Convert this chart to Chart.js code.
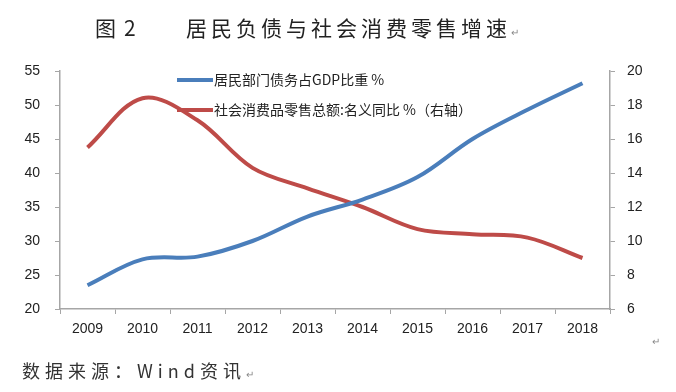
<!DOCTYPE html>
<html>
<head>
<meta charset="utf-8">
<script src="https://cdn.jsdelivr.net/npm/chart.js@4.4.1/dist/chart.umd.min.js"></script>
<style>
  html, body { margin: 0; padding: 0; background: #fff; }
  #wrap { position: relative; width: 676px; height: 392px; overflow: hidden; }
  #chart { position: absolute; left: 0; top: 0; }
  .title { position: absolute; left: 95px; top: 12px; font-family: "Noto Sans CJK SC"; font-size: 21px; color: #222; white-space: nowrap; }
  .title .num { margin-left: 8px; }
  .title .main { position: absolute; left: 91px; top: 0; letter-spacing: 4px; }
  .src { position: absolute; left: 22px; top: 357px; font-family: "Noto Sans CJK SC"; font-size: 18px; color: #333; white-space: nowrap; letter-spacing: 5px; }
  .mark { font-size: 10px; color: #888; letter-spacing: 0; }
  .mark2 { position: absolute; left: 652px; top: 336px; font-size: 10px; color: #888; }
</style>
</head>
<body>
<div id="wrap">
  <canvas id="chart" width="676" height="392"></canvas>
  <div class="title">图<span class="num">2</span><span class="main">居民负债与社会消费零售增速<span class="mark">↵</span></span></div>
  <div class="src">数据来源：Wind资讯<span class="mark">↵</span></div>
  <div class="mark2">↵</div>
</div>
<script>
// data
var years = ['2009', '2010', '2011', '2012', '2013', '2014', '2015', '2016', '2017', '2018'];
var debtToGdp = [23.5, 27.3, 27.7, 30.0, 33.6, 36.1, 39.4, 45.0, 49.3, 53.2];
var retailGrowth = [15.5, 18.4, 17.1, 14.3, 13.1, 12.0, 10.7, 10.4, 10.2, 9.0];
var debtLabel = '居民部门债务占GDP比重 %';
var retailLabel = '社会消费品零售总额:名义同比 %（右轴）';

var blue = '#4a7ebb';
var red = '#be4b48';
var axisGray = '#a6a6a6';
var tickFont = { family: 'Liberation Sans', size: 14 };

// legend drawn inside the plot like the original
var innerLegend = {
    id: 'innerLegend',
    afterDraw: function(chart) {
        var ctx = chart.ctx;
        var rows = [[blue, debtLabel, 80], [red, retailLabel, 110]];
        ctx.save();
        rows.forEach(function(r) {
            ctx.strokeStyle = r[0];
            ctx.lineWidth = 4;
            ctx.beginPath();
            ctx.moveTo(177, r[2]);
            ctx.lineTo(213, r[2]);
            ctx.stroke();
            ctx.fillStyle = '#222';
            ctx.font = '14px "Noto Sans CJK SC"';
            ctx.textBaseline = 'middle';
            ctx.fillText(r[1], 214, r[2]);
        });
        ctx.restore();
    }
};

var ctx = document.getElementById('chart').getContext('2d');
var myChart = new Chart(ctx, {
    type: 'line',
    data: {
        labels: years,
        datasets: [{
            label: debtLabel,
            data: debtToGdp,
            yAxisID: 'y',
            borderColor: blue,
            backgroundColor: blue,
            borderWidth: 4,
            pointRadius: 0,
            tension: 0.35
        },
        {
            label: retailLabel,
            data: retailGrowth,
            yAxisID: 'y1',
            borderColor: red,
            backgroundColor: red,
            borderWidth: 4,
            pointRadius: 0,
            tension: 0.35
        }]
    },
    options: {
        responsive: false,
        animation: false,
        layout: { padding: { top: 71, bottom: 0, left: 0, right: 0 } },
        plugins: {
            legend: { display: false },
            tooltip: { enabled: false }
        },
        scales: {
            x: {
                offset: true,
                grid: { display: true, offset: true, drawOnChartArea: false, drawTicks: true, tickLength: 5, color: axisGray },
                border: { color: axisGray, width: 1.5 },
                ticks: { color: '#222', font: tickFont, padding: 7, maxRotation: 0 },
                afterFit: function(s) { s.height = 83; }
            },
            y: {
                position: 'left',
                min: 20,
                max: 55,
                grid: { display: true, drawOnChartArea: false, tickLength: 5, color: axisGray },
                border: { color: axisGray, width: 1.5 },
                ticks: { stepSize: 5, color: '#222', font: tickFont, padding: 15 },
                afterFit: function(s) { s.width = 60; }
            },
            y1: {
                position: 'right',
                min: 6,
                max: 20,
                grid: { display: true, drawOnChartArea: false, tickLength: 5, color: axisGray },
                border: { color: axisGray, width: 1.5 },
                ticks: { stepSize: 2, color: '#222', font: tickFont, padding: 12 },
                afterFit: function(s) { s.width = 66; }
            }
        }
    },
    plugins: [innerLegend]
});
</script>
</body>
</html>
